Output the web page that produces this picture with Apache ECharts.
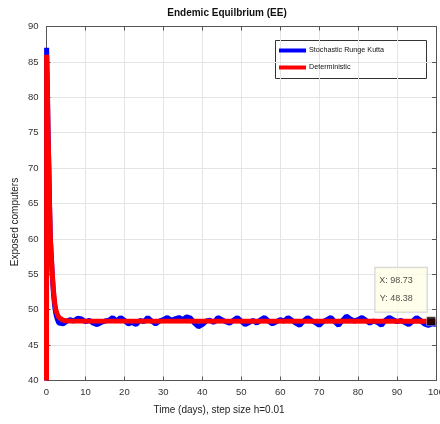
<!DOCTYPE html>
<html><head><meta charset="utf-8">
<script src="https://cdn.jsdelivr.net/npm/echarts@6/dist/echarts.min.js"></script>
<style>html,body{margin:0;padding:0;background:#fff}#c{width:440px;height:424px}</style>
</head><body><div id="c"></div>
<script>
var FONT = "'Liberation Sans', Arial, Helvetica, sans-serif";
var chartTitle = 'Endemic Equilbrium (EE)';
var xTitle = 'Time (days), step size h=0.01';
var yTitle = 'Exposed computers';
var seriesNames = ['Stochastic Runge Kutta', 'Deterministic'];

// Deterministic solution
var detT = [0, 0.03, 0.25, 0.4, 0.6, 0.8, 1.0, 1.25, 1.5, 1.8, 2.1, 2.4, 2.8, 3.2, 3.7, 4.3, 5, 6, 100];
var detE = [40, 86, 80, 75, 70, 64.5, 60, 57.5, 55, 52.6, 51, 50, 49.3, 48.9, 48.65, 48.5, 48.43, 48.4, 48.38];

// Stochastic Runge Kutta path
var stoT = [0, 0.03, 0.25, 0.4, 0.6, 0.8, 1.0, 1.25, 1.5, 1.8, 2.1, 2.4, 2.8, 3.2, 3.7, 4.3, 5,
  6,7,8,9,10,11,12,13,14,15,16,17,18,19,20,21,22,23,24,25,26,27,28,29,30,31,32,33,34,35,36,37,38,39,40,
  41,42,43,44,45,46,47,48,49,50,51,52,53,54,55,56,57,58,59,60,61,62,63,64,65,66,67,68,69,70,
  71,72,73,74,75,76,77,78,79,80,81,82,83,84,85,86,87,88,89,90,91,92,93,94,95,96,97,98,99,100];
var stoE = [40, 87, 80.5, 75.2, 70, 64.3, 59.8, 57.2, 54.6, 52.2, 50.5, 49.4, 48.6, 48.1, 47.9, 48.0, 48.3,
  48.6,48.4,48.8,48.7,48.3,48.5,48.1,47.9,48.2,48.4,48.5,48.9,48.4,48.9,48.5,48.0,48.2,47.9,48.5,48.3,48.9,48.4,48.0,48.4,48.6,48.9,48.5,48.7,48.9,48.6,49.0,48.8,48.1,47.6,47.9,
  48.4,48.5,48.2,48.9,48.6,48.3,48.1,48.5,48.9,48.4,47.9,48.2,48.5,48.1,48.6,48.9,48.4,48.0,48.3,48.6,48.4,48.9,48.5,48.1,47.8,48.4,48.9,48.5,48.2,47.8,
  48.3,48.6,48.9,48.3,47.8,48.5,49.1,48.7,48.4,48.6,48.9,48.5,48.1,48.4,48.2,47.8,48.5,48.9,48.6,48.3,48.5,48.2,47.9,48.4,48.9,48.5,48.0,47.8,48.0,47.9];

var tipX = 98.73, tipY = 48.38;

function pairs(a, b){ var r=[]; for (var i=0;i<a.length;i++) r.push([a[i], b[i]]); return r; }

var chart = echarts.init(document.getElementById('c'), null, {renderer:'canvas'});
var axisColor = '#555';
function xAx(pos, show){
  return {type:'value', position:pos, min:0, max:100, interval:10,
    axisLine:{show:true, onZero:false, lineStyle:{color:axisColor, width:1}},
    axisTick:{show:true, inside:true, length:4, lineStyle:{color:axisColor}},
    axisLabel:{show:show, margin:7, fontSize:9.5, color:'#333', fontFamily:FONT},
    splitLine:{show:show, lineStyle:{color:'#e4e4e4', width:1}}};
}
function yAx(pos, show){
  return {type:'value', position:pos, min:40, max:90, interval:5,
    axisLine:{show:true, onZero:false, lineStyle:{color:axisColor, width:1}},
    axisTick:{show:true, inside:true, length:4, lineStyle:{color:axisColor}},
    axisLabel:{show:show, margin:8, fontSize:9.5, color:'#333', fontFamily:FONT},
    splitLine:{show:show, lineStyle:{color:'#e4e4e4', width:1}}};
}

chart.setOption({
  animation:false,
  backgroundColor:'#fff',
  title:{text:chartTitle, left:222, top:3, textAlign:'center',
    textStyle:{fontSize:10, fontWeight:'bold', color:'#111', fontFamily:FONT}},
  grid:{left:46.5, right:4, top:26.5, bottom:43.5, containLabel:false, outerBoundsMode:'none'},
  xAxis:[xAx('bottom', true), xAx('top', false)],
  yAxis:[yAx('left', true), yAx('right', false)],
  legend:{orient:'vertical', left:279, top:47, padding:0, itemWidth:27, itemHeight:4, itemGap:10,
    icon:'rect', data:seriesNames, selectedMode:false,
    textStyle:{fontSize:7.2, color:'#111', fontFamily:FONT, padding:[0,0,0,-2]}},
  graphic:[
    {type:'rect', shape:{x:275.5, y:40.5, width:151, height:38}, z:-1,
      style:{fill:'#fff', stroke:'#333', lineWidth:1}},
    {type:'text', x:219, y:410, style:{text:xTitle, fontSize:10, fill:'#222', fontFamily:FONT, textAlign:'center', textVerticalAlign:'middle'}},
    {type:'text', x:15.5, y:222, rotation:Math.PI/2, style:{text:yTitle, fontSize:10, fill:'#222', fontFamily:FONT, textAlign:'center', textVerticalAlign:'middle'}}
  ],
  series:[
    {name:seriesNames[0], type:'line', data:pairs(stoT, stoE), showSymbol:false, symbol:'none',
      lineStyle:{color:'#0000ff', width:5}, itemStyle:{color:'#0000ff'}, z:2},
    {name:seriesNames[1], type:'line', data:pairs(detT, detE), showSymbol:false, symbol:'none',
      lineStyle:{color:'#ff0000', width:5}, itemStyle:{color:'#ff0000'}, z:3},
    {name:'tip', type:'scatter', data:[[tipX, tipY]], symbol:'rect', symbolSize:9, clip:false, z:5,
      itemStyle:{color:'#000', borderColor:'#fff', borderWidth:0.5},
      label:{show:true, position:[0.5,-4.7], align:'right', verticalAlign:'bottom',
        formatter:'X: ' + tipX + '\nY: ' + tipY, lineHeight:18,
        fontSize:9, color:'#222', fontFamily:FONT, backgroundColor:'#ffffe6',
        borderColor:'#c8c8c8', borderWidth:1, padding:[4,14,4,4]}}
  ]
});
</script></body></html>
